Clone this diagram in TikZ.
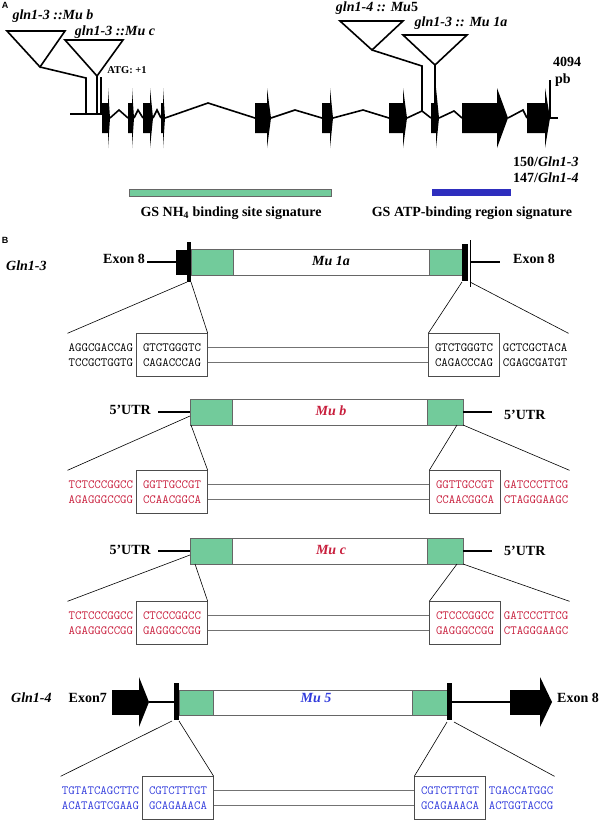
\documentclass[tikz,border=0pt]{standalone}
\usepackage{fontspec}
\setmainfont{Liberation Serif}
\setsansfont{Liberation Sans}
\usetikzlibrary{positioning}
\definecolor{mugreen}{RGB}{114,203,155}
\definecolor{atpblue}{RGB}{46,46,190}
\definecolor{mured}{RGB}{200,30,60}
\definecolor{mublue}{RGB}{50,60,220}

\begin{document}
\begin{tikzpicture}[x=1pt,y=-1pt,
  lbl/.style={font=\bfseries\fontsize{14}{14}\selectfont, inner sep=0pt},
  ilbl/.style={font=\bfseries\itshape\fontsize{14}{14}\selectfont, inner sep=0pt},
  panel/.style={font=\sffamily\bfseries\fontsize{9}{9}\selectfont, inner sep=0pt},
  seq/.style={font=\ttfamily\fontsize{12.5}{15}\selectfont, align=center, inner sep=1pt},
  seqbox/.style={seq, draw=black!70, minimum width=71pt, minimum height=43pt},
  tsd/.style={fill=mugreen, draw=black!60},
  mubody/.style={fill=white, draw=black!60},
  gene/.style={line width=1.6pt},
  thin/.style={line width=0.6pt},
  link/.style={draw=black!55, line width=0.8pt}]
\useasboundingbox (0,0) rectangle (598,822);

% ---------------- A
\node[panel] (labA) at (5,5) {A};
\node[ilbl] (mub) at (53,16) {gln1-3 ::Mu b};
\node[ilbl] (muc) at (115,32) {gln1-3 ::Mu c};
\node[ilbl] (mu5) at (377,8) {gln1-4 :: Mu{\upshape 5}};
\node[ilbl] (mu1a) at (461,23) {gln1-3 :: Mu 1a};

\draw[gene] (7,31) -- (65,31) -- (40,67) coordinate (tb) -- cycle;
\draw[gene] (65,40) -- (123,40) -- (97,76) coordinate (tc) -- cycle;
\draw[gene] (340,21) -- (403,21) -- (372,50) coordinate (t5) -- cycle;
\draw[gene] (403,35) -- (467,35) -- (435,65) coordinate (t1a) -- cycle;

\draw[gene] (tb) -- (86,78) -- (86,114);
\draw[gene] (tc) -- (97,114);
\draw[gene] (101,77) -- (101,114);
\draw[gene] (t5) -- (422,66) -- (422,111);
\draw[gene] (t1a) -- (435,118);
\node[font=\bfseries\fontsize{10.5}{10.5}\selectfont, inner sep=0pt] (atg) at (127,70) {ATG: +1};

\draw[gene] (70,114) -- (102,114);
\foreach \a/\p/\h/\b in {110/119/110/128, 134/138/110/143, 153/157/110/161,
    165/208/103/255, 271/295/110/322, 333/363/110/389, 407/422/111/431,
    439/454/111/462, 508/523/110/527}
  \draw[gene] (\a,118) -- (\p,\h) -- (\b,118);
\draw[gene] (550,118) -- (558,118);

% exons
\foreach \l/\r/\t in {102/108/110, 128/132/134, 143/150/153, 161/163/165,
    255/267/271, 322/330/333, 389/403/407, 431/436/439, 462/497/508, 527/545/550}
  \fill (\l,103) rectangle (\r,133) (\r,88) -- (\t,118) -- (\r,148) -- cycle;

\draw[gene] (550,80) -- (550,118);
\node[lbl, anchor=west] (len) at (553,62) {4094};
\node[lbl, anchor=west] (pb) at (555,80) {pb};
\node[lbl, anchor=west] (aa3) at (513,162) {150/\textit{Gln1-3}};
\node[lbl, anchor=west] (aa4) at (513,178) {147/\textit{Gln1-4}};

\draw[fill=mugreen, draw=black!60] (129,189) rectangle (331,196);
\fill[atpblue] (432,189) rectangle (511,196);
\node[lbl] (nh4) at (231,213) {GS NH\textsubscript{4} binding site signature};
\node[lbl] (atp) at (472,213) {GS ATP-binding region signature};

% ---------------- B
\node[panel] (labB) at (5,240) {B};

% Gln1-3 :: Mu 1a
\node[ilbl, anchor=west] (g13) at (6,266) {Gln1-3};
\node[lbl, anchor=east] (e8l) at (145,259) {Exon 8};
\draw[gene] (147,262) -- (176,262);
\fill (176,250) rectangle (187,275);
\fill (187,242) rectangle (191,282);
\draw[tsd] (191,249) rectangle (233,275);
\draw[mubody] (233,249) rectangle (429,275);
\draw[tsd] (429,249) rectangle (462,275);
\fill (462,244) rectangle (468,281);
\draw[thin] (470,240) -- (470,287);
\draw[gene] (470,262) -- (500,262);
\node[lbl, anchor=west] (e8r) at (513,259) {Exon 8};
\node[ilbl] (m1a) at (331,261) {Mu 1a};

\node[seqbox] (s1l) at (172,355) {GTCTGGGTC\\CAGACCCAG};
\node[seqbox] (s1r) at (464,355) {GTCTGGGTC\\CAGACCCAG};
\node[seq, left=2pt of s1l] (o1l) {AGGCGACCAG\\TCCGCTGGTG};
\node[seq, right=2pt of s1r] (o1r) {GCTCGCTACA\\CGAGCGATGT};
\draw[link] ([yshift=7.5pt]s1l.east) -- ([yshift=7.5pt]s1r.west);
\draw[link] ([yshift=-7.5pt]s1l.east) -- ([yshift=-7.5pt]s1r.west);
\draw[thin] (187,282) -- (o1l.west |- s1l.north);
\draw[thin] (191,282) -- (s1l.north east);
\draw[thin] (462,282) -- (s1r.north west);
\draw[thin] (470,282) -- (o1r.east |- s1r.north);

% Gln1-3 :: Mu b
\node[lbl, anchor=east] (u2l) at (151,410) {5’UTR};
\draw[gene] (158,412) -- (190,412);
\draw[tsd] (190,399) rectangle (232,425);
\draw[mubody] (232,399) rectangle (427,425);
\draw[tsd] (427,399) rectangle (463,425);
\draw[gene] (463,412) -- (492,412);
\node[lbl, anchor=west] (u2r) at (504,415) {5’UTR};
\node[ilbl, mured] (mbl) at (331,411) {Mu b};

\begin{scope}[every node/.append style={text=mured}]
\node[seqbox] (s2l) at (172,492) {GGTTGCCGT\\CCAACGGCA};
\node[seqbox] (s2r) at (465,492) {GGTTGCCGT\\CCAACGGCA};
\node[seq, left=2pt of s2l] (o2l) {TCTCCCGGCC\\AGAGGGCCGG};
\node[seq, right=2pt of s2r] (o2r) {GATCCCTTCG\\CTAGGGAAGC};
\end{scope}
\draw[link] ([yshift=7.5pt]s2l.east) -- ([yshift=7.5pt]s2r.west);
\draw[link] ([yshift=-7.5pt]s2l.east) -- ([yshift=-7.5pt]s2r.west);
\draw[thin] (190,416) -- (o2l.west |- s2l.north);
\draw[thin] (191,425) -- (s2l.north east);
\draw[thin] (457,425) -- (s2r.north west);
\draw[thin] (463,425) -- (o2r.east |- s2r.north);

% Gln1-3 :: Mu c
\node[lbl, anchor=east] (u3l) at (151,550) {5’UTR};
\draw[gene] (158,551) -- (190,551);
\draw[tsd] (190,538) rectangle (232,564);
\draw[mubody] (232,538) rectangle (427,564);
\draw[tsd] (427,538) rectangle (463,564);
\draw[gene] (463,551) -- (492,551);
\node[lbl, anchor=west] (u3r) at (504,551) {5’UTR};
\node[ilbl, mured] (mcl) at (331,550) {Mu c};

\begin{scope}[every node/.append style={text=mured}]
\node[seqbox] (s3l) at (172,623) {CTCCCGGCC\\GAGGGCCGG};
\node[seqbox] (s3r) at (465,623) {CTCCCGGCC\\GAGGGCCGG};
\node[seq, left=2pt of s3l] (o3l) {TCTCCCGGCC\\AGAGGGCCGG};
\node[seq, right=2pt of s3r] (o3r) {GATCCCTTCG\\CTAGGGAAGC};
\end{scope}
\draw[link] ([yshift=7.5pt]s3l.east) -- ([yshift=7.5pt]s3r.west);
\draw[link] ([yshift=-7.5pt]s3l.east) -- ([yshift=-7.5pt]s3r.west);
\draw[thin] (190,555) -- (o3l.west |- s3l.north);
\draw[thin] (195,564) -- (s3l.north east);
\draw[thin] (457,564) -- (s3r.north west);
\draw[thin] (463,564) -- (o3r.east |- s3r.north);

% Gln1-4 :: Mu 5
\node[ilbl, anchor=west] (g14) at (11,698) {Gln1-4};
\node[lbl, anchor=east] (e7) at (107,698) {Exon7};
\fill (112,690) rectangle (140,715);
\fill (139,677) -- (149,702) -- (139,727) -- cycle;
\draw[gene] (149,702) -- (174,702);
\fill (174,683) rectangle (179,720);
\draw[tsd] (179,690) rectangle (213,715);
\draw[mubody] (213,690) rectangle (412,715);
\draw[tsd] (412,690) rectangle (447,715);
\fill (447,683) rectangle (452,720);
\draw[gene] (452,702) -- (510,702);
\fill (510,690) rectangle (540,715);
\fill (540,677) -- (552,702) -- (540,727) -- cycle;
\node[lbl, anchor=west] (e8b) at (557,698) {Exon 8};
\node[ilbl, mublue] (m5l) at (316,698) {Mu 5};

\begin{scope}[every node/.append style={text=mublue}]
\node[seqbox] (s4l) at (178,798) {CGTCTTTGT\\GCAGAAACA};
\node[seqbox] (s4r) at (450,798) {CGTCTTTGT\\GCAGAAACA};
\node[seq, left=2pt of s4l] (o4l) {TGTATCAGCTTC\\ACATAGTCGAAG};
\node[seq, right=2pt of s4r] (o4r) {TGACCATGGC\\ACTGGTACCG};
\end{scope}
\draw[link] ([yshift=7.5pt]s4l.east) -- ([yshift=7.5pt]s4r.west);
\draw[link] ([yshift=-7.5pt]s4l.east) -- ([yshift=-7.5pt]s4r.west);
\draw[thin] (172,721) -- (o4l.west |- s4l.north);
\draw[thin] (179,721) -- (s4l.north east);
\draw[thin] (447,722) -- (s4r.north west);
\draw[thin] (454,722) -- (o4r.east |- s4r.north);
\end{tikzpicture}
\end{document}
